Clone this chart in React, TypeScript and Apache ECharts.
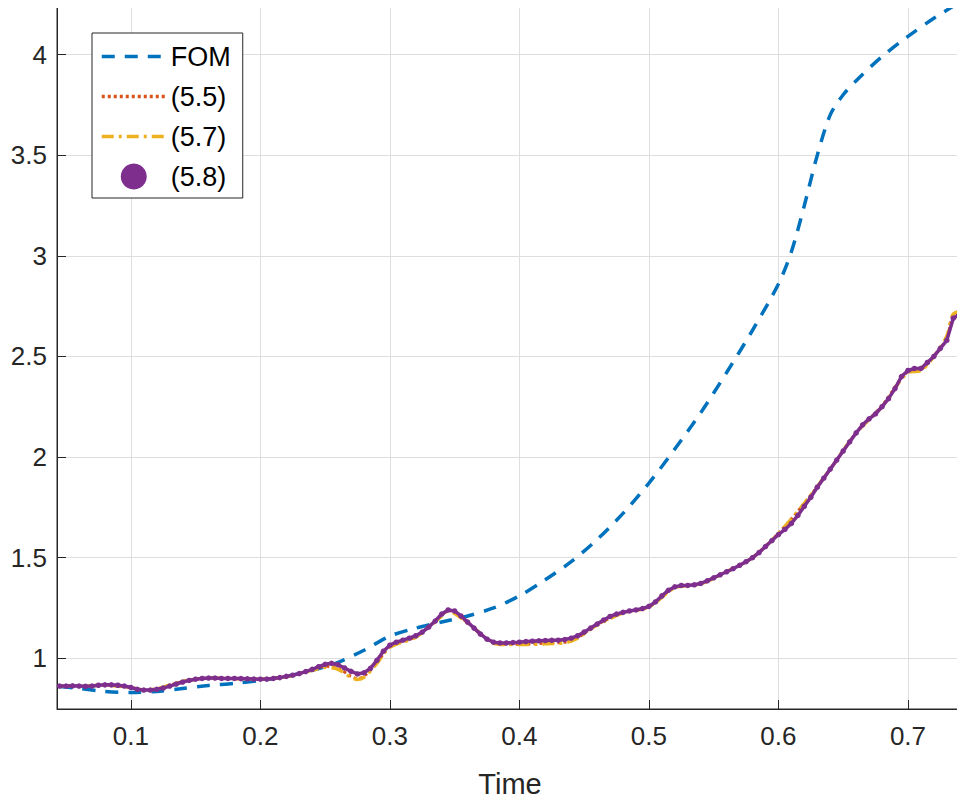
import React, { useEffect, useRef } from "react";
import * as echarts from "echarts";

const fomX = [0.045, 0.06, 0.08, 0.1, 0.12, 0.14, 0.16, 0.18, 0.2, 0.22, 0.24, 0.26, 0.28, 0.3, 0.32, 0.34, 0.36, 0.38, 0.4, 0.42, 0.44, 0.46, 0.48, 0.5, 0.52, 0.54, 0.56, 0.58, 0.6, 0.61, 0.62, 0.63, 0.64, 0.65, 0.66, 0.68, 0.7, 0.72, 0.745];
const fomY = [0.86, 0.85, 0.835, 0.83, 0.835, 0.85, 0.865, 0.875, 0.89, 0.91, 0.94, 0.98, 1.04, 1.11, 1.15, 1.18, 1.21, 1.25, 1.31, 1.39, 1.48, 1.59, 1.72, 1.87, 2.04, 2.22, 2.42, 2.63, 2.86, 3.02, 3.25, 3.5, 3.7, 3.8, 3.87, 3.99, 4.09, 4.18, 4.28];

const romX = [0.045, 0.05, 0.055, 0.06, 0.065, 0.07, 0.075, 0.08, 0.085, 0.09, 0.095, 0.1, 0.105, 0.11, 0.115, 0.12, 0.125, 0.13, 0.135, 0.14, 0.145, 0.15, 0.155, 0.16, 0.165, 0.17, 0.175, 0.18, 0.185, 0.19, 0.195, 0.2, 0.205, 0.21, 0.215, 0.22, 0.225, 0.23, 0.235, 0.24, 0.245, 0.25, 0.255, 0.26, 0.265, 0.27, 0.275, 0.28, 0.285, 0.29, 0.295, 0.3, 0.305, 0.31, 0.315, 0.32, 0.325, 0.33, 0.335, 0.34, 0.345, 0.35, 0.355, 0.36, 0.365, 0.37, 0.375, 0.38, 0.385, 0.39, 0.395, 0.4, 0.405, 0.41, 0.415, 0.42, 0.425, 0.43, 0.435, 0.44, 0.445, 0.45, 0.455, 0.46, 0.465, 0.47, 0.475, 0.48, 0.485, 0.49, 0.495, 0.5, 0.505, 0.51, 0.515, 0.52, 0.525, 0.53, 0.535, 0.54, 0.545, 0.55, 0.555, 0.56, 0.565, 0.57, 0.575, 0.58, 0.585, 0.59, 0.595, 0.6, 0.605, 0.61, 0.615, 0.62, 0.625, 0.63, 0.635, 0.64, 0.645, 0.65, 0.655, 0.66, 0.665, 0.67, 0.675, 0.68, 0.685, 0.69, 0.695, 0.7, 0.705, 0.71, 0.715, 0.72, 0.725, 0.73, 0.735, 0.74, 0.745];
const y58 = [0.862, 0.862, 0.863, 0.862, 0.861, 0.862, 0.866, 0.868, 0.868, 0.866, 0.862, 0.855, 0.846, 0.842, 0.842, 0.846, 0.852, 0.862, 0.872, 0.882, 0.89, 0.896, 0.9, 0.902, 0.902, 0.9, 0.9, 0.9, 0.899, 0.898, 0.897, 0.896, 0.897, 0.9, 0.904, 0.91, 0.916, 0.924, 0.934, 0.945, 0.958, 0.97, 0.975, 0.968, 0.952, 0.935, 0.922, 0.928, 0.95, 0.99, 1.035, 1.065, 1.08, 1.09, 1.1, 1.112, 1.13, 1.155, 1.185, 1.22, 1.24, 1.235, 1.21, 1.18, 1.15, 1.12, 1.095, 1.08, 1.076, 1.076, 1.078, 1.08, 1.083, 1.085, 1.087, 1.088, 1.089, 1.09, 1.093, 1.1, 1.112, 1.13, 1.15, 1.17, 1.19, 1.208, 1.22, 1.228, 1.235, 1.24, 1.247, 1.258, 1.28, 1.31, 1.338, 1.355, 1.362, 1.362, 1.365, 1.372, 1.385, 1.4, 1.415, 1.43, 1.445, 1.462, 1.48, 1.5, 1.525, 1.555, 1.585, 1.615, 1.64, 1.67, 1.71, 1.755, 1.8, 1.85, 1.895, 1.94, 1.985, 2.03, 2.075, 2.12, 2.16, 2.19, 2.215, 2.25, 2.29, 2.34, 2.4, 2.43, 2.44, 2.44, 2.47, 2.5, 2.54, 2.58, 2.69, 2.71, 2.72];

const x57 = [0.045, 0.06, 0.08, 0.1, 0.11, 0.12, 0.14, 0.16, 0.18, 0.2, 0.22, 0.24, 0.25, 0.26, 0.27, 0.275, 0.28, 0.29, 0.3, 0.32, 0.34, 0.345, 0.36, 0.38, 0.39, 0.4, 0.42, 0.44, 0.46, 0.48, 0.5, 0.52, 0.54, 0.56, 0.58, 0.6, 0.62, 0.64, 0.66, 0.68, 0.7, 0.71, 0.72, 0.73, 0.735, 0.745];
const y57 = [0.862, 0.862, 0.866, 0.855, 0.843, 0.848, 0.885, 0.902, 0.9, 0.896, 0.908, 0.94, 0.955, 0.945, 0.905, 0.895, 0.905, 0.975, 1.055, 1.105, 1.21, 1.235, 1.175, 1.075, 1.068, 1.068, 1.072, 1.085, 1.165, 1.225, 1.255, 1.35, 1.37, 1.43, 1.5, 1.62, 1.77, 1.94, 2.12, 2.25, 2.42, 2.43, 2.5, 2.6, 2.71, 2.73];
const y55 = [0.862, 0.862, 0.866, 0.855, 0.843, 0.848, 0.884, 0.901, 0.9, 0.896, 0.909, 0.942, 0.96, 0.95, 0.91, 0.9, 0.91, 0.978, 1.058, 1.107, 1.213, 1.237, 1.177, 1.077, 1.07, 1.07, 1.075, 1.087, 1.167, 1.227, 1.256, 1.352, 1.371, 1.431, 1.5, 1.621, 1.77, 1.94, 2.12, 2.255, 2.425, 2.435, 2.5, 2.59, 2.7, 2.72];

const xTicks = [0.1, 0.2, 0.3, 0.4, 0.5, 0.6, 0.7];
const yTicks = [1, 1.5, 2, 2.5, 3, 3.5, 4];

const zip = (xs: number[], ys: number[]) => xs.map((x, i) => [x, ys[i]]);

const App = () => {
  const ref = useRef<HTMLDivElement>(null);

  useEffect(() => {
    if (!ref.current) return;
    const chart = echarts.init(ref.current, null, { renderer: "svg" });
    const axisText = { color: "#262626", fontSize: 26, fontFamily: "Liberation Sans" };
    const noMark = { opacity: 0 };
    const option: echarts.EChartsOption = {
      animation: false,
      grid: { left: 57, right: 2, top: 1, bottom: 90, show: true, borderColor: "#262626", borderWidth: 1 },
      xAxis: {
        type: "value",
        min: 0.043,
        max: 0.7425,
        name: "Time",
        nameLocation: "middle",
        nameGap: 60,
        nameTextStyle: { ...axisText, fontSize: 29 },
        axisLine: { show: true, onZero: false, lineStyle: { color: "#262626" } },
        axisTick: { inside: true, length: 9, customValues: xTicks, lineStyle: { color: "#262626" } },
        axisLabel: { ...axisText, margin: 14, customValues: xTicks, formatter: (v: number) => String(v) },
        splitLine: { show: true, lineStyle: { color: "#dedede" } },
      },
      yAxis: {
        type: "value",
        min: 0.748,
        max: 4.266,
        axisLine: { show: true, onZero: false, lineStyle: { color: "#262626" } },
        axisTick: { inside: true, length: 9, customValues: yTicks, lineStyle: { color: "#262626" } },
        axisLabel: { ...axisText, margin: 10, customValues: yTicks, formatter: (v: number) => String(v) },
        splitLine: { show: true, lineStyle: { color: "#dedede" } },
      },
      legend: {
        orient: "vertical",
        left: 92,
        top: 33,
        backgroundColor: "#ffffff",
        borderColor: "#262626",
        borderWidth: 1,
        padding: [10, 12, 8, 8],
        itemGap: 13,
        itemWidth: 64,
        itemHeight: 26,
        textStyle: { color: "#000", fontSize: 27, fontFamily: "Liberation Sans" },
        data: [
          { name: "FOM", itemStyle: noMark, lineStyle: { width: 3.5 } },
          { name: "(5.5)", itemStyle: noMark, lineStyle: { width: 3.5 } },
          { name: "(5.7)", itemStyle: noMark, lineStyle: { width: 3.5 } },
          { name: "(5.8)", icon: "circle", lineStyle: { width: 3.5 } },
        ],
      },
      series: [
        {
          name: "FOM", type: "line", data: zip(fomX, fomY), symbol: "none", smooth: 0.3,
          lineStyle: { color: "#0072BD", width: 3.5, type: [13, 10] }, itemStyle: { color: "#0072BD" },
        },
        {
          name: "(5.5)", type: "line", data: zip(x57, y55), symbol: "none", smooth: 0.3,
          lineStyle: { color: "#D95319", width: 3, type: [3, 3] }, itemStyle: { color: "#D95319" },
        },
        {
          name: "(5.7)", type: "line", data: zip(x57, y57), symbol: "none", smooth: 0.3,
          lineStyle: { color: "#EDB120", width: 3.5, type: [12, 5, 3, 5] }, itemStyle: { color: "#EDB120" },
        },
        {
          name: "(5.8)", type: "line", data: zip(romX, y58), symbol: "circle", symbolSize: 5.5, showAllSymbol: true,
          lineStyle: { color: "#7E2F8E", width: 3.5 }, itemStyle: { color: "#7E2F8E" },
        },
      ],
    };
    chart.setOption(option);
    return () => chart.dispose();
  }, []);

  return <div ref={ref} style={{ width: 965, height: 803, margin: -8 }} />;
};

export default App;
